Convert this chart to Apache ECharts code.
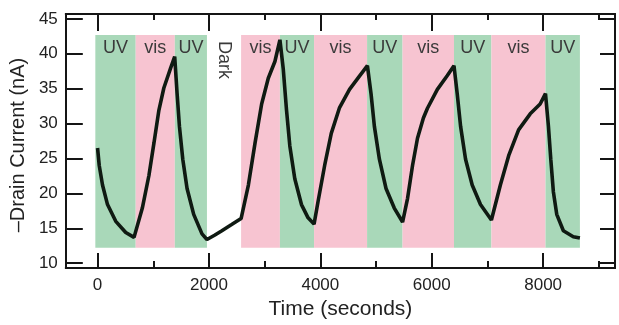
<!DOCTYPE html>
<html>
<head>
<meta charset="utf-8">
<script src="https://cdn.jsdelivr.net/npm/echarts@6/dist/echarts.min.js"></script>
<style>
  html, body { margin: 0; padding: 0; background: #fff; }
  #chart { width: 619px; height: 325px; }
</style>
</head>
<body>
<div id="chart"></div>
<script>
// drain current trace
var times = [
  0, 30, 89, 179, 327, 506, 655, 680,
  804, 923, 1012, 1101, 1190, 1310, 1385,
  1429, 1470, 1530, 1607, 1726, 1875, 1964,
  2100, 2232, 2400, 2577,
  2708, 2827, 2946, 3065, 3184, 3274,
  3333, 3393, 3452, 3541, 3661, 3780, 3887,
  3958, 4077, 4196, 4345, 4524, 4702, 4845,
  4911, 4970, 5060, 5179, 5327, 5476,
  5566, 5655, 5744, 5850, 5923, 6101, 6280, 6399,
  6458, 6518, 6607, 6726, 6875, 7071,
  7232, 7381, 7559, 7768, 7946, 8042,
  8095, 8137, 8184, 8244, 8363, 8541, 8660
]
var current = [
  26.5, 24.0, 21.2, 18.4, 16.0, 14.4, 13.7, 13.5,
  17.9, 22.6, 27.2, 31.9, 35.1, 37.9, 39.6,
  34.2, 29.6, 24.9, 20.7, 17.0, 14.2, 13.4,
  14.0, 14.65, 15.5, 16.4,
  21.2, 27.2, 32.8, 36.5, 38.9, 42.0,
  37.9, 31.9, 26.8, 22.1, 18.4, 16.5, 15.6,
  18.8, 24.0, 28.6, 32.3, 34.9, 36.8, 38.3,
  34.2, 29.6, 24.9, 20.7, 17.9, 15.9,
  19.3, 24.0, 27.9, 30.8, 32.2, 34.9, 36.9, 38.3,
  34.2, 29.6, 24.9, 21.2, 18.4, 16.2,
  21.2, 25.4, 29.1, 31.4, 32.8, 34.3,
  29.6, 24.9, 20.2, 17.0, 14.65, 13.8, 13.6
]

// illumination periods
var bandStart = [-40, 685, 1387, 1964, 2577, 3274, 3887, 4839, 5476, 6399, 7071, 8042]
var bandEnd = [685, 1387, 1964, 2577, 3274, 3887, 4839, 5476, 6399, 7071, 8042, 8660]
var bandKind = ['UV', 'vis', 'UV', 'Dark', 'vis', 'UV', 'vis', 'UV', 'vis', 'UV', 'vis', 'UV']
var bandLow = 12.2
var bandHigh = 42.7

var xTicks = [0, 2000, 4000, 6000, 8000]
var xMinorTicks = [1000, 3000, 5000, 7000, 9000]
var yTicks = [10, 15, 20, 25, 30, 35, 40, 45]

var font = 'Liberation Sans, Arial, sans-serif'
var ink = '#151515'
var bandColors = { UV: '#a9d8b9', vis: '#f7c4d1', Dark: 'rgba(255,255,255,0)' }

function xAx (pos, values, len, withLabels) {
  return {
    type: 'value',
    position: pos,
    min: -570,
    max: 9290,
    name: withLabels ? 'Time (seconds)' : '',
    nameLocation: 'middle',
    nameGap: 29,
    nameTextStyle: { fontSize: 21, color: '#222', fontFamily: font },
    axisLine: { show: true, onZero: false, lineStyle: { color: ink, width: 2 } },
    axisTick: { show: true, inside: true, length: len, customValues: values, lineStyle: { color: ink, width: 2 } },
    axisLabel: withLabels
      ? { show: true, customValues: values, fontSize: 17, color: '#222', margin: 9, fontFamily: font,
          formatter: function (v) { return String(v) } }
      : { show: false },
    splitLine: { show: false }
  }
}

function yAx (pos, len, withLabels) {
  return {
    type: 'value',
    position: pos,
    min: 9.3,
    max: 45.7,
    name: withLabels ? '\u2013Drain Current (nA)' : '',
    nameLocation: 'middle',
    nameGap: 34,
    nameTextStyle: { fontSize: 20, color: '#222', fontFamily: font, padding: [0, 8, 0, 0] },
    axisLine: { show: true, onZero: false, lineStyle: { color: ink, width: 2 } },
    axisTick: { show: true, inside: true, length: len, customValues: yTicks, lineStyle: { color: ink, width: 2 } },
    axisLabel: withLabels
      ? { show: true, customValues: yTicks, fontSize: 17, color: '#222', margin: 8, fontFamily: font }
      : { show: false },
    splitLine: { show: false }
  }
}

var areas = bandKind.map(function (kind, i) {
  var label = {
    show: true,
    position: 'insideTop',
    distance: 4,
    fontSize: 18,
    color: '#3a3a3a',
    fontFamily: font,
    formatter: function (p) { return p.name }
  }
  if (kind === 'Dark') {
    label.rotate = -90
    label.align = 'left'
    label.verticalAlign = 'middle'
    label.distance = 6
  }
  return [
    { name: kind, xAxis: bandStart[i], yAxis: bandHigh, itemStyle: { color: bandColors[kind] }, label: label },
    { xAxis: bandEnd[i], yAxis: bandLow }
  ]
})

var chart = echarts.init(document.getElementById('chart'))
chart.setOption({
  animation: false,
  grid: { left: 64, right: 4, top: 14, bottom: 50 },
  xAxis: [
    xAx('bottom', xTicks, 15, true),
    xAx('bottom', xMinorTicks, 7, false),
    xAx('top', xTicks, 17, false),
    xAx('top', xMinorTicks, 6, false)
  ],
  yAxis: [
    yAx('left', 17, true),
    yAx('right', 15, false)
  ],
  series: [{
    type: 'line',
    data: times.map(function (t, i) { return [t, current[i]] }),
    showSymbol: false,
    lineStyle: { color: '#0f1a12', width: 3.6 },
    z: 5,
    markArea: {
      silent: true,
      data: areas
    }
  }]
})
</script>
</body>
</html>
